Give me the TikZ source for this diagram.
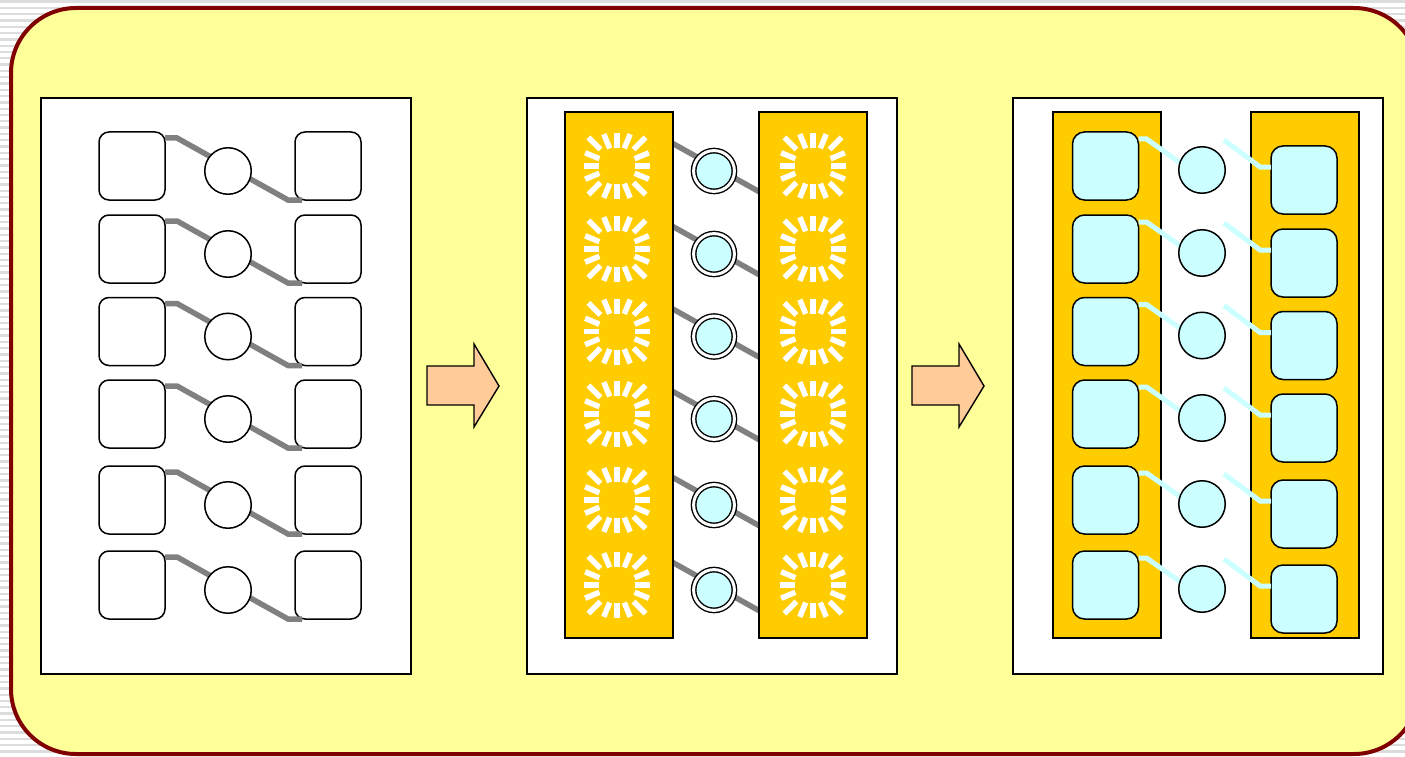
\documentclass[tikz,border=0pt]{standalone}
\usetikzlibrary{calc}
\definecolor{paper}{HTML}{FFFF99}
\definecolor{rim}{HTML}{800000}
\definecolor{gold}{HTML}{FFCC00}
\definecolor{ice}{HTML}{CCFFFF}
\definecolor{wire}{HTML}{808080}
\definecolor{peach}{HTML}{FFCC99}
\definecolor{stripe}{HTML}{DCDCDC}
\pgfdeclarelayer{back}
\pgfsetlayers{back,main}
\begin{document}
\begin{tikzpicture}[x=1pt,y=-1pt,
  panel/.style={draw=black,line width=1.3,fill=white,minimum width=370,minimum height=576,inner sep=0,outer sep=0},
  column/.style={draw=black,line width=1.3,fill=gold,minimum width=108,minimum height=526,inner sep=0,outer sep=0},
  box/.style={draw=black,line width=1.5,fill=white,rounded corners=10,minimum width=66,minimum height=68,inner sep=0,outer sep=0},
  icebox/.style={box,fill=ice,rounded corners=12},
  ring/.style={circle,draw=black,line width=1.5,fill=white,minimum size=46.5,inner sep=0,outer sep=0},
  icedot/.style={ring,fill=ice},
  dring/.style={circle,draw=black,line width=1.4,double=white,double distance=3,fill=ice,minimum size=40.8,inner sep=0,outer sep=0},
  grayw/.style={draw=wire,line width=5.5},
  icew/.style={draw=ice,line width=5},
  blockarrow/.style={draw=black,line width=1.4,fill=peach,line join=miter},
  % white rays around a square-ish hollow
  burst/.pic={
    \foreach \a in {0,22.5,...,337.5}{
      \pgfmathsetmacro\m{1/max(abs(cos(\a)),abs(sin(\a)))-1}
      \pgfmathsetmacro\ri{18+13*\m}
      \pgfmathsetmacro\ro{33+18*\m}
      \draw[white,line width=5.5] (\a:\ri) -- (\a:\ro);
    }
  }
]
\useasboundingbox (0,0) rectangle (1405,757);

% striped backdrop and the rounded frame
\begin{pgfonlayer}{back}
\fill[white] (0,0) rectangle (1405,757);
\foreach \k in {0,...,120}
  \fill[stripe] (0,{\k*6.3+0.5}) rectangle (1405,{\k*6.3+2.8});
\draw[rim,line width=4,fill=paper,rounded corners=65] (11,8) rectangle (1419,754);
\node[panel] (p1) at (226,386) {};
\node[panel] (p2) at (712,386) {};
\node[panel] (p3) at (1198,386) {};
\end{pgfonlayer}

% first panel: plain boxes joined through circles
\foreach \y [count=\i] in {166,249,331.5,414,500,585}{
  \node[box] (a\i) at (132,\y) {};
  \node[box] (b\i) at (328,\y) {};
  \draw[grayw] ($(a\i.east)+(0,-28)$) -- ++(12,0) -- ($(b\i.west)+(-7,34)$) -- ++(14,0);
  \node[ring] (c\i) at (228,{\y+5}) {};
}

% block arrows
\draw[blockarrow] (427,366) -- (474,366) -- (474,344) -- (499,386) -- (474,427) -- (474,405) -- (427,405) -- cycle;
\draw[blockarrow] (912,366) -- (959,366) -- (959,344) -- (984,386) -- (959,427) -- (959,405) -- (912,405) -- cycle;

% second panel: gold columns with bursts, ringed dots
\node[column] (L2) at (619,375) {};
\node[column] (R2) at (813,375) {};
\foreach \y [count=\i] in {166,249,331.5,414,500,585}{
  \coordinate (s\i) at (617,\y);
  \coordinate (t\i) at (813,\y);
  \pic at (s\i) {burst};
  \pic at (t\i) {burst};
  \begin{pgfonlayer}{back}
    \draw[grayw] ($(s\i)+(46,-28)$) -- ($(t\i)+(-39,34)$);
  \end{pgfonlayer}
  \node[dring] (d\i) at (714,{\y+5}) {};
}

% third panel: gold columns with cyan boxes and dots
\node[column] (L3) at (1107,375) {};
\node[column] (R3) at (1305,375) {};
\foreach \y [count=\i] in {166,249,331.5,414,500,585}{
  \node[icebox] (e\i) at (1105.5,\y) {};
  \node[icebox] (f\i) at (1304,{\y+14}) {};
  \draw[icew] ($(e\i.east)+(0,-27)$) -- ++(8,0) -- ++(34,24);
  \coordinate (g\i) at (1224,{\y-26});
  \draw[icew] (g\i) -- ($(f\i.west)+(-11,-13)$) -- ($(f\i.west)+(0,-13)$);
  \node[icedot] (h\i) at (1202,{\y+4}) {};
}
\end{tikzpicture}
\end{document}
